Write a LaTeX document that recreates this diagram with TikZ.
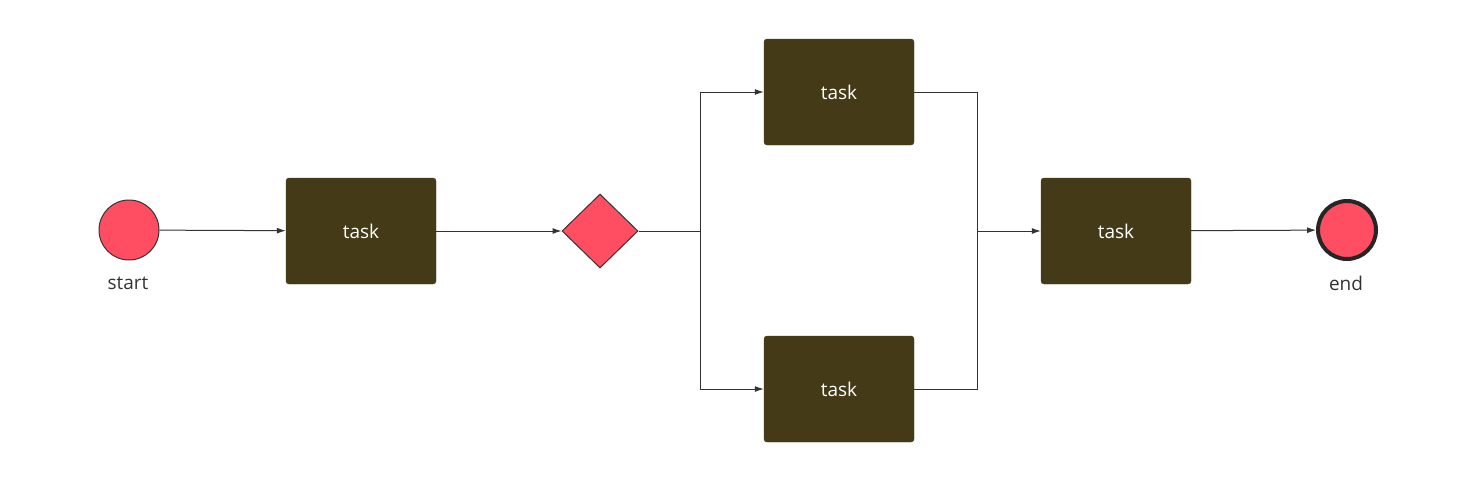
\documentclass[tikz,border=0pt]{standalone}
\usepackage{fontspec}
\setmainfont{Open Sans}
\usetikzlibrary{shapes.geometric,arrows.meta}
\definecolor{evred}{HTML}{FF4D62}
\definecolor{taskc}{HTML}{453A17}
\begin{document}
\begin{tikzpicture}[x=1pt,y=-1pt,
  task/.style={draw=taskc,fill=taskc,minimum width=150pt,minimum height=106pt,rounded corners=3pt,text=white,font=\fontsize{19}{22}\selectfont},
  ev/.style={circle,draw=black!80,fill=evred,minimum size=60pt,inner sep=0pt},
  lbl/.style={font=\fontsize{19}{22}\selectfont,text=black!80},
  conn/.style={draw=black!80,line width=1pt,-{Latex[length=9pt,width=6pt]}},
  line/.style={draw=black!80,line width=1pt}]
\useasboundingbox (0,0) rectangle (1474,477);
\node[ev,line width=1pt] (start) at (129,230) {};
\node[lbl] (startl) at (128,283) {start};
\node[task] (t1) at (361,231) {task};
\node[diamond,draw=black!80,fill=evred,minimum width=76pt,minimum height=74pt,inner sep=0pt,line width=1pt] (g) at (600,231) {};
\node[task] (t2) at (839,92) {task};
\node[task] (t3) at (839,389) {task};
\node[task] (t4) at (1116,231) {task};
\node[ev,line width=4pt,minimum size=58pt,draw=black!85] (end) at (1347,230) {};
\node[lbl] (endl) at (1346,283) {end};
\coordinate (s) at (700,231);
\coordinate (j) at (977,231);
\draw[conn] (start) -- (t1);
\draw[conn] (t1) -- (g);
\draw[line] (g.east) -- (s);
\draw[conn] (s) |- (t2.west);
\draw[conn] (s) |- (t3.west);
\draw[line] (t2.east) -| (j);
\draw[line] (t3.east) -| (j);
\draw[conn] (j) -- (t4.west);
\draw[conn] (t4) -- (end);
\end{tikzpicture}
\end{document}
